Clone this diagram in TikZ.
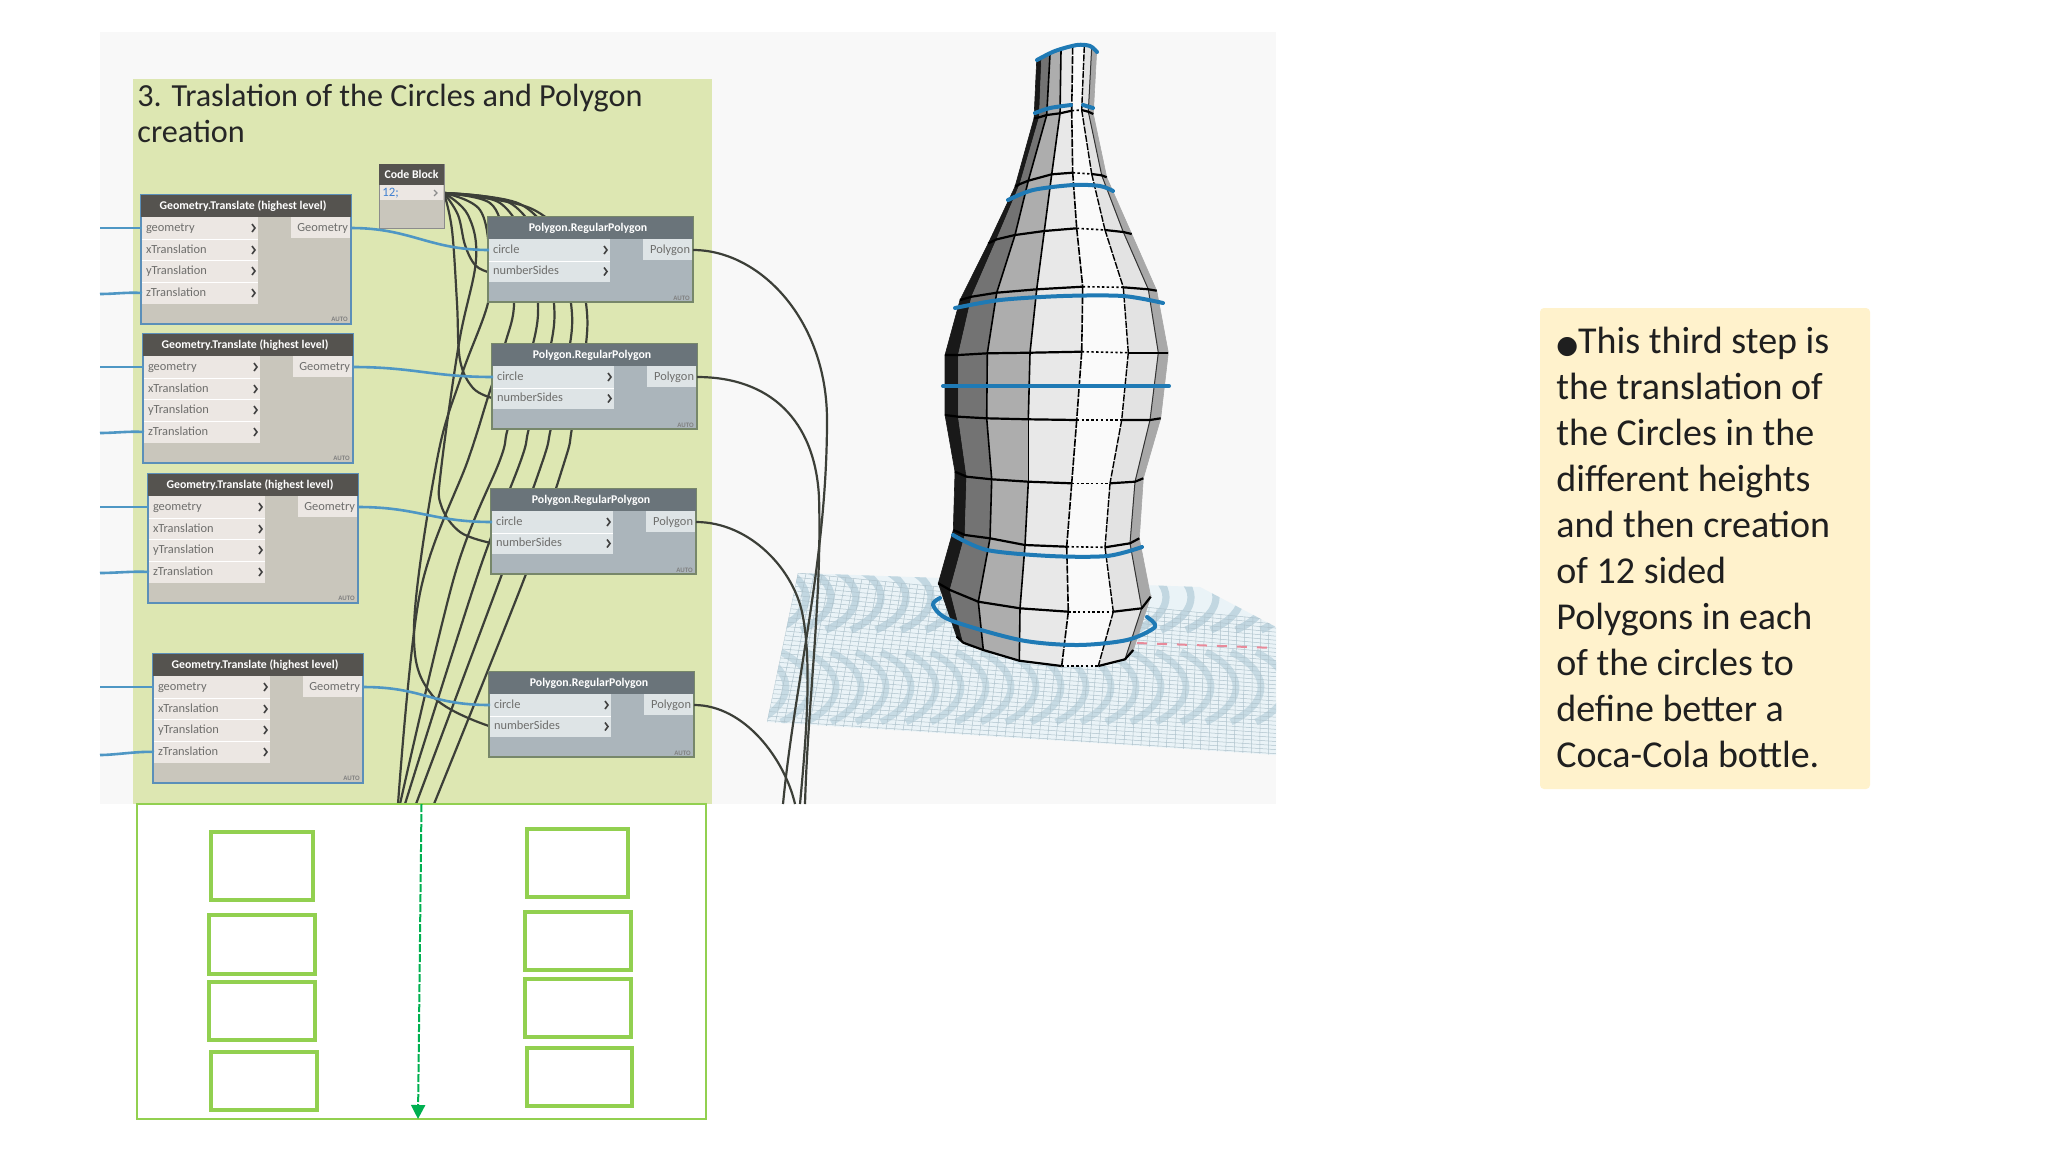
\documentclass[tikz,border=0pt]{standalone}
\usepackage{fontspec}
\setmainfont{Carlito}
\newfontfamily\djv{DejaVu Sans}
\usetikzlibrary{arrows.meta,calc}
\definecolor{panel}{HTML}{F8F8F8}
\definecolor{greenpanel}{HTML}{DDE7B2}
\definecolor{gtbody}{HTML}{C9C6BC}
\definecolor{gthead}{HTML}{55534F}
\definecolor{gtrow}{HTML}{ECE7E3}
\definecolor{gtedge}{HTML}{5B8FB9}
\definecolor{pbody}{HTML}{ABB5BB}
\definecolor{phead}{HTML}{6A747A}
\definecolor{prow}{HTML}{DEE4E6}
\definecolor{pedge}{HTML}{77876A}
\definecolor{wirec}{HTML}{3C3F38}
\definecolor{bluew}{HTML}{4F97C4}
\definecolor{ringc}{HTML}{1F7AB5}
\definecolor{boxg}{HTML}{92D050}
\definecolor{arrowg}{HTML}{00B050}
\definecolor{notec}{HTML}{FFF2CC}
\definecolor{txt}{HTML}{6E6E6C}
\definecolor{gridc}{HTML}{AFC3CC}
\definecolor{moire}{HTML}{C2D7E1}
\definecolor{planebg}{HTML}{EAF3F7}
\definecolor{reddash}{HTML}{E88A9A}
\definecolor{codeblue}{HTML}{3F7FD0}
\tikzset{
  wire/.style={draw=wirec,line width=1.1pt},
  bluewire/.style={draw=bluew,line width=1.3pt},
  gtnode/.style={draw=gtedge,line width=1pt,fill=gtbody,minimum width=105pt,minimum height=64.5pt,inner sep=0pt,outer sep=0pt,anchor=north west},
  pnode/.style={draw=pedge,line width=.6pt,fill=pbody,minimum width=102.5pt,minimum height=42.5pt,inner sep=0pt,outer sep=0pt,anchor=north west},
  header/.style={text=white,font=\fontsize{5.9}{7}\selectfont\bfseries,minimum height=11.5pt,inner sep=0pt,outer sep=0pt,anchor=north west},
  inrow/.style={text=txt,font=\fontsize{6.2}{7}\selectfont,text height=4.6pt,text depth=1.4pt,inner sep=2pt,outer sep=0pt,align=left,anchor=west},
  outrow/.style={text=txt,font=\fontsize{6.2}{7}\selectfont,text height=4.6pt,text depth=1.4pt,inner sep=1.5pt,outer sep=0pt,align=right,anchor=east},
  autotag/.style={text=gray,font=\fontsize{3.4}{4}\selectfont\bfseries,inner sep=0pt,anchor=south east},
  chev/.style={draw=black!75,line width=.8pt},
  greenbox/.style={draw=boxg,line width=1.8pt,fill=white,inner sep=0pt},
  ringline/.style={draw=ringc,line width=2pt,line cap=round,line join=round},
}
\newcommand\chevat[2]{\draw[chev] ({#1-3},{#2-4})--({#1},{#2})--({#1-3},{#2+4});}
% name, left, top
\newcommand\transnode[3]{%
  \node[gtnode] (#1) at (#2,#3) {};
  \fill[gthead] (#2,#3) rectangle ({#2+210},{#3+22});
  \node[header,minimum width=102pt,align=center] (#1h) at (#2,#3) {Geometry.Translate (highest level)};
  \fill[gtrow] ({#2+1},{#3+22}) rectangle ({#2+117},{#3+109});
  \foreach \sepy in {44,65.5,87}{\draw[white,line width=.4pt] ({#2+1},{#3+\sepy}) -- ({#2+117},{#3+\sepy});}
  \foreach \rowy/\rowt/\rowk in {33/geometry/a,55/xTranslation/b,76/yTranslation/c,98/zTranslation/d}{
    \node[inrow] (#1\rowk) at ({#2+1},{#3+\rowy}) {\rowt};
    \chevat{#2+114}{#3+\rowy}
  }
  \fill[gtrow] ({#2+150},{#3+22}) rectangle ({#2+209},{#3+43});
  \node[outrow] (#1o) at ({#2+210},{#3+33}) {Geometry};
  \node[autotag] (#1t) at ({#2+207},{#3+127}) {AUTO};
}
\newcommand\polynode[3]{%
  \node[pnode] (#1) at (#2,#3) {};
  \fill[phead] (#2,#3) rectangle ({#2+205},{#3+22});
  \node[header,minimum width=100pt,align=center] (#1h) at (#2,#3) {Polygon.RegularPolygon};
  \fill[prow] ({#2+1},{#3+22}) rectangle ({#2+122},{#3+65});
  \draw[white,line width=.4pt] ({#2+1},{#3+44}) -- ({#2+122},{#3+44});
  \foreach \rowy/\rowt/\rowk in {33/circle/a,54.5/numberSides/b}{
    \node[inrow] (#1\rowk) at ({#2+1},{#3+\rowy}) {\rowt};
    \chevat{#2+119}{#3+\rowy}
  }
  \fill[prow] ({#2+155},{#3+22}) rectangle ({#2+204},{#3+43});
  \node[outrow] (#1o) at ({#2+205},{#3+33}) {Polygon};
  \node[autotag] (#1t) at ({#2+202},{#3+84}) {AUTO};
}
\begin{document}
\begin{tikzpicture}[x=0.5pt,y=-0.5pt]
\useasboundingbox (0,0) rectangle (2048,1152);
\fill[white] (0,0) rectangle (2048,1152);
\fill[panel] (100,32) rectangle (1276,804);
% ---------- ground plane
\begin{scope}
\clip (798,573)--(1200,587)--(1276,627)--(1276,755)--(1097,743)--(767,722)--cycle;
\fill[planebg] (760,570) rectangle (1280,760);
\foreach \mx in {785,810,...,960,1145,1170,...,1300}
  \draw[moire,line width=3.6pt] (\mx-34,566) .. controls (\mx+6,582) and (\mx+6,612) .. (\mx-34,630);
\foreach \mx in {790,815,...,1310}
  \draw[moire,line width=3.4pt,opacity=.85] (\mx-34,652) .. controls (\mx+6,672) and (\mx+6,702) .. (\mx-34,722);
\foreach \ttt in {0,0.03,...,1.001}{
  \draw[gridc,line width=.25pt] ($(798,573)!\ttt!(767,722)$) -- ($(1276,620)!\ttt!(1276,755)$);
}
\foreach \ttt in {0,0.0167,...,1.001}{
  \draw[gridc,line width=.25pt] ($(798,573)!\ttt!(1276,620)$) -- ($(767,722)!\ttt!(1276,755)$);
}
\draw[reddash,line width=1pt,dash pattern=on 5pt off 5pt] (1137,643)--(1276,648);
\end{scope}
% ---------- bottle
\foreach \rr/\pts in {
 0/{1036.7/60,1041.7/56.7,1050/54,1061/50,1072.7/46.7,1084.3/46,1091.7/47.3,1096.7/50.7},
 1/{1034/118.3,1039.3/117.3,1046.7/115,1060/113.3,1071.7/110.7,1081.7/110,1088.3/111.7,1093.3/114},
 2/{1015/186.7,1020/184,1028.3/180.7,1051.7/174.3,1072.7/172.7,1091.7/174,1101.7/175.3,1106.7/177.3},
 3/{988.3/243.3,996.7/239.3,1015/235,1044.3/231,1076.7/228.3,1105/230,1123.3/232,1131.7/234},
 4/{960/300,971.7/296.7,996.7/292.7,1036.7/289.3,1082.7/286.7,1123.3/287.3,1148.3/289.3,1156.7/290.7},
 5/{945/355,958.3/355,987.3/353.3,1030/352.7,1081.7/351.7,1128.3/352.7,1158.3/352.7,1168.3/352.7},
 6/{945/415,958.3/416.7,986.7/418.3,1028.3/419.3,1076.7/420,1121.7/420,1150/420,1160.7/418.3},
 7/{955/471.7,966.7/476.7,991.7/479.3,1028.3/481.7,1071.7/483.3,1110/483.3,1135/481.7,1143.3/478.3},
 8/{953.3/530,965/535,990/538.3,1025/545,1066.7/546.7,1105/547.3,1130/543.3,1139.3/538.3},
 9/{938.3/583.3,950/590,978.3/601.7,1020/608.3,1068.3/611.7,1113.3/611.7,1141.7/608.3,1150.7/596.7},
 10/{956.7/636.7,963.3/642.7,983.3/650,1019.3/660.7,1061.7/666,1098.3/666,1125/659.3,1133.3/650}}{
  \foreach \xx/\yy [count=\cc from 0] in \pts {\coordinate (b\rr-\cc) at (\xx,\yy);}
}
\foreach \rr [evaluate=\rr as \rn using int(\rr+1)] in {0,...,9}{
  \foreach \cc/\gr [evaluate=\cc as \cn using int(\cc+1)] in {0/90,1/55,2/32,3/9,4/2,5/11,6/34}{
    \fill[black!\gr] (b\rr-\cc)--(b\rr-\cn)--(b\rn-\cn)--(b\rn-\cc)--cycle;
    \draw[black!\gr,line width=.3pt] (b\rr-\cc)--(b\rr-\cn)--(b\rn-\cn)--(b\rn-\cc)--cycle;
  }
}
% longitudinal lines
\foreach \rr [evaluate=\rr as \rn using int(\rr+1)] in {0,...,9}{
  \foreach \cc in {2,3}{\draw[black,line width=.8pt] (b\rr-\cc)--(b\rn-\cc);}
  \draw[black,line width=.8pt,dash pattern=on 4pt off .7pt] (b\rr-4)--(b\rn-4);
  \draw[black,line width=.7pt,dash pattern=on 3.5pt off .7pt] (b\rr-5)--(b\rn-5);
  \draw[black!80,line width=.5pt] (b\rr-6)--(b\rn-6);
}
% ring lines
\foreach \rr in {1,...,10}{
  \draw[black,line width=1.1pt,line join=round] (b\rr-0)--(b\rr-1)--(b\rr-2)--(b\rr-3)--(b\rr-4);
  \draw[black,line width=.8pt,dash pattern=on 1.2pt off 1.2pt] (b\rr-4)--(b\rr-5);
  \draw[black,line width=1.1pt,line join=round] (b\rr-5)--(b\rr-6)--(b\rr-7);
}
% blue rings
\draw[ringline] plot[smooth] coordinates {(1037,60)(1055,51)(1077,45)(1090,46)(1097,52)};
\draw[ringline] plot[smooth] coordinates {(1035,113)(1050,108)(1071,105)};
\draw[ringline] (1083,105)--(1093,108);
\draw[ringline] plot[smooth] coordinates {(1008,200)(1033,190)(1073,185)(1100,186)(1113,191)};
\draw[ringline] plot[smooth] coordinates {(955,308)(1000,300)(1063,296)(1123,296)(1163,303)};
\draw[ringline] (943,386)--(1169,386);
\draw[ringline] plot[smooth] coordinates {(953,535)(987,550)(1050,556)(1107,556)(1142,547)};
\draw[ringline] plot[smooth] coordinates {(940,598)(933,605)(950,620)(1020,640)(1077,645)(1127,640)(1155,627)(1147,617)};
% ---------- green panel
\fill[greenpanel] (133,79) rectangle (712,804);
\node[anchor=north west,inner sep=0pt,align=left,text=black!85,font=\fontsize{16.1}{18}\selectfont] (title) at (137,84)
  {3. Traslation of the Circles and Polygon\\creation};
% ---------- anchors for free wire ends
\coordinate (cout) at (444,193);
\coordinate (e1) at (783,804);
\coordinate (e2) at (805,804);
\coordinate (e3) at (800,804);
\coordinate (e4) at (795,804);
\coordinate (d1) at (434,804);
\coordinate (d2) at (416,804);
\coordinate (d3) at (405,804);
\coordinate (d4) at (400,804);
\coordinate (d5) at (398,804);
\coordinate (n1) at (488,272);
\coordinate (n2) at (492,398);
\coordinate (n3) at (491,543);
\coordinate (n4) at (489,726);
% ---------- code-block wires (behind the nodes)
\draw[wire] plot[smooth,tension=.6] coordinates {(cout)(458,215)(465,245)(475,265)(n1)};
\draw[wire] plot[smooth,tension=.6] coordinates {(cout)(452,230)(457,303)(460,360)(473,388)(n2)};
\draw[wire] plot[smooth,tension=.6] coordinates {(cout)(468,215)(476,260)(459,343)(441,470)(441,505)(460,532)(n3)};
\draw[wire] plot[smooth,tension=.6] coordinates {(cout)(480,210)(490,260)(488,303)(461,377)(437,460)(414,627)(432,695)(n4)};
\draw[wire] plot[smooth,tension=.55] coordinates {(cout)(490,203)(505,240)(514,303)(505,344)(488,397)(468,460)(420,593)(d5)};
\draw[wire] plot[smooth,tension=.55] coordinates {(cout)(500,203)(530,250)(538,303)(533,344)(508,428)(500,460)(455,574)(d4)};
\draw[wire] plot[smooth,tension=.55] coordinates {(cout)(510,203)(545,250)(554,303)(551,344)(529,428)(521,460)(478,574)(d3)};
\draw[wire] plot[smooth,tension=.55] coordinates {(cout)(520,204)(560,250)(571,303)(570,344)(551,428)(543,460)(502,574)(d2)};
\draw[wire] plot[smooth,tension=.55] coordinates {(cout)(530,208)(575,250)(586,303)(586,344)(572,428)(565,460)(526,574)(d1)};
% ---------- nodes
\node[draw=black!45,line width=.5pt,fill=gtbody,minimum width=32.5pt,minimum height=32pt,inner sep=0pt,outer sep=0pt,anchor=north west] (code) at (379,164) {};
\fill[gthead] (379,164) rectangle (444,185);
\node[header,minimum width=32.5pt,minimum height=10.5pt,align=center] (codeh) at (379,164) {Code Block};
\fill[gtrow] (380,185) rectangle (443,200);
\node[anchor=west,inner sep=1pt,text=codeblue,font=\fontsize{6.4}{7}\selectfont] (codev) at (380,193) {12;};
\draw[black!45,line width=.6pt] (434,190)--(437,193)--(434,196);
\transnode{ga}{141}{195}
\transnode{gb}{143}{334}
\transnode{gc}{148}{474}
\transnode{gd}{153}{654}
\polynode{pa}{488}{217}
\polynode{pb}{492}{344}
\polynode{pc}{491}{489}
\polynode{pd}{489}{672}
% ---------- wires on the nodes
\foreach \nm/\yy in {a/228,b/367,c/507,d/687}{
  \coordinate (sg\nm) at (100,\yy);
  \draw[bluewire] (sg\nm) -- (g\nm a.west);
}
\foreach \nm/\yy in {a/294,b/433,c/573,d/755}{
  \coordinate (sz\nm) at (100,\yy);
  \draw[bluewire] (sz\nm) .. controls +(15,0) and +(-15,-1) .. (g\nm d.west);
}
\foreach \nm in {a,b,c,d}{
  \draw[bluewire] (g\nm o.east) .. controls +(60,0) and +(-60,0) .. (p\nm a.west);
}
\draw[wire] (pao.east) .. controls (760,250) and (827,320) .. (827,420) .. controls (827,560) and (795,680) .. (e1);
\draw[wire] (pbo.east) .. controls (770,377) and (815,420) .. (819,497) .. controls (822,600) and (808,700) .. (e2);
\draw[wire] (pco.east) .. controls (750,522) and (795,570) .. (803,617) .. controls (812,665) and (806,740) .. (e3);
\draw[wire] (pdo.east) .. controls (745,705) and (785,760) .. (e4);
% ---------- lower box
\node[draw=boxg,line width=1pt,fill=white,minimum width=284.5pt,minimum height=157.5pt,inner sep=0pt,outer sep=0pt,anchor=north west] (lower) at (137,804) {};
\foreach \nm/\xa/\ya/\xb/\yb in {
  l1/211/832/313/900,l2/209/915/315/974,l3/209/982/315/1040,l4/211/1052/317/1110,
  r1/527/829/628/897,r2/525/912/631/970,r3/525/979/631/1037,r4/527/1048/632/1106}{
  \draw[greenbox] (\xa,\ya) rectangle (\xb,\yb);
}
\coordinate (atop) at (421.5,804);
\coordinate (abot) at (418,1119);
\draw[draw=arrowg,line width=1pt,dash pattern=on 4pt off 1pt,-{Triangle[length=7pt,width=7pt]}] (atop) -- (abot);
% ---------- note
\fill[notec,rounded corners=2pt] (1540,308) rectangle (1870,789);
\node[anchor=north west,inner sep=0pt,align=left,text=black!88,font=\fontsize{19}{23}\selectfont] (note) at (1556,327)
  {{\djv\fontsize{12.5}{23}\selectfont ●}This third step is\\the translation of\\the Circles in the\\different heights\\and then creation\\of 12 sided\\Polygons in each\\of the circles to\\define better a\\Coca-Cola bottle.};
\end{tikzpicture}
\end{document}
